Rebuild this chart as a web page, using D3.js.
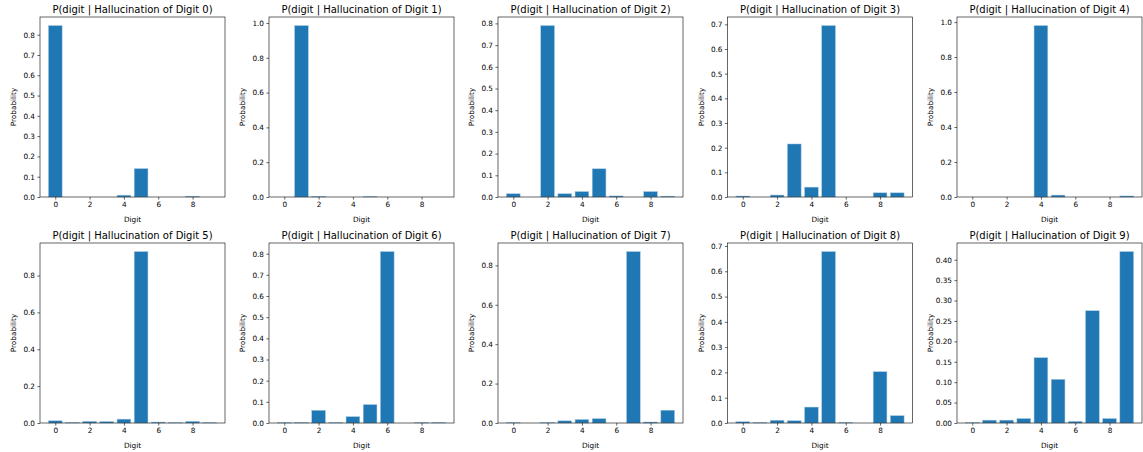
<!DOCTYPE html>
<html>
<head>
<meta charset="utf-8">
<script src="https://cdn.jsdelivr.net/npm/d3@7"></script>
<style>
  html, body { margin: 0; padding: 0; background: #fff; }
  svg { display: block; }
  text { font-family: "DejaVu Sans", sans-serif; fill: #000; }
</style>
</head>
<body>
<svg id="chart" width="1143" height="452"></svg>
<script>
// ---- data ----
const digits = [0, 1, 2, 3, 4, 5, 6, 7, 8, 9];
const xTickValues = [0, 2, 4, 6, 8];
const titles = digits.map(d => `P(digit | Hallucination of Digit ${d})`);
const probs0 = [0.845, 0, 0, 0, 0.009, 0.140, 0, 0, 0.004, 0];
const probs1 = [0, 0.985, 0.004, 0, 0, 0.003, 0, 0, 0, 0];
const probs2 = [0.015, 0, 0.790, 0.015, 0.025, 0.130, 0.005, 0, 0.025, 0.004];
const probs3 = [0.004, 0, 0.008, 0.215, 0.040, 0.695, 0, 0, 0.017, 0.017];
const probs4 = [0, 0, 0, 0, 0.980, 0.011, 0, 0, 0, 0.006];
const probs5 = [0.012, 0.003, 0.009, 0.008, 0.021, 0.930, 0.005, 0.002, 0.009, 0.002];
const probs6 = [0.002, 0.002, 0.060, 0.002, 0.030, 0.087, 0.810, 0, 0.002, 0.002];
const probs7 = [0.002, 0, 0.002, 0.011, 0.018, 0.022, 0, 0.870, 0.005, 0.065];
const probs8 = [0.005, 0.002, 0.011, 0.009, 0.063, 0.678, 0.002, 0, 0.203, 0.029];
const probs9 = [0.001, 0.007, 0.007, 0.011, 0.160, 0.107, 0.004, 0.275, 0.011, 0.420];
const allProbs = [probs0, probs1, probs2, probs3, probs4, probs5, probs6, probs7, probs8, probs9];
const yTickSteps = [0.1, 0.2, 0.1, 0.1, 0.2, 0.2, 0.1, 0.2, 0.1, 0.05];

// ---- layout ----
const colLeft = [40, 269, 498, 727.5, 957];
const rowTop = [17, 243];
const axW = 185, axH = 180;
const barColor = "#1f77b4";

const svg = d3.select("#chart");

allProbs.forEach((vals, i) => {
  const r = Math.floor(i / 5), c = i % 5;
  const g = svg.append("g").attr("transform", `translate(${colLeft[c]},${rowTop[r]})`);
  const ymax = d3.max(vals) * 1.05;
  const x = d3.scaleLinear().domain([-0.4 - 0.49, 9.4 + 0.49]).range([0, axW]);
  const y = d3.scaleLinear().domain([0, ymax]).range([axH, 0]);

  g.selectAll("rect.bar").data(vals).enter().append("rect")
    .attr("class", "bar")
    .attr("x", (d, k) => x(digits[k] - 0.4))
    .attr("width", x(0.4) - x(-0.4))
    .attr("y", d => y(d))
    .attr("height", d => y(0) - y(d))
    .attr("fill", barColor)
    .attr("stroke", "#a8c9e3")
    .attr("stroke-width", 0.5);

  const step = yTickSteps[i];
  const nT = Math.floor(ymax / step + 1e-9);
  const yTicks = d3.range(nT + 1).map(k => +(k * step).toFixed(4));
  const dec = step < 0.1 ? 2 : 1;

  const yAxis = d3.axisLeft(y).tickValues(yTicks).tickFormat(d => d.toFixed(dec)).tickSize(2.6).tickPadding(2.4);
  const xAxis = d3.axisBottom(x).tickValues(xTickValues).tickFormat(d3.format("d")).tickSize(2.6).tickPadding(2.4);

  const ya = g.append("g").call(yAxis);
  const xa = g.append("g").attr("transform", `translate(0,${axH})`).call(xAxis);
  [ya, xa].forEach(a => {
    a.select(".domain").remove();
    a.selectAll("line").attr("stroke", "#000").attr("stroke-width", 0.6);
    a.selectAll("text").attr("font-size", 7.3).attr("fill", "#000")
      .style("font-family", '"DejaVu Sans", sans-serif');
  });

  g.append("rect").attr("x", 0).attr("y", 0).attr("width", axW).attr("height", axH)
    .attr("fill", "none").attr("stroke", "#000").attr("stroke-width", 0.6);

  g.append("text").attr("x", axW / 2).attr("y", -4.5).attr("text-anchor", "middle")
    .attr("font-size", 10).text(titles[i]);
  g.append("text").attr("x", axW / 2).attr("y", axH + 24.5).attr("text-anchor", "middle")
    .attr("font-size", 7.3).text("Digit");
  g.append("text").attr("transform", `translate(${-24},${axH / 2}) rotate(-90)`)
    .attr("text-anchor", "middle").attr("font-size", 7.3).text("Probability");
});
</script>
</body>
</html>
